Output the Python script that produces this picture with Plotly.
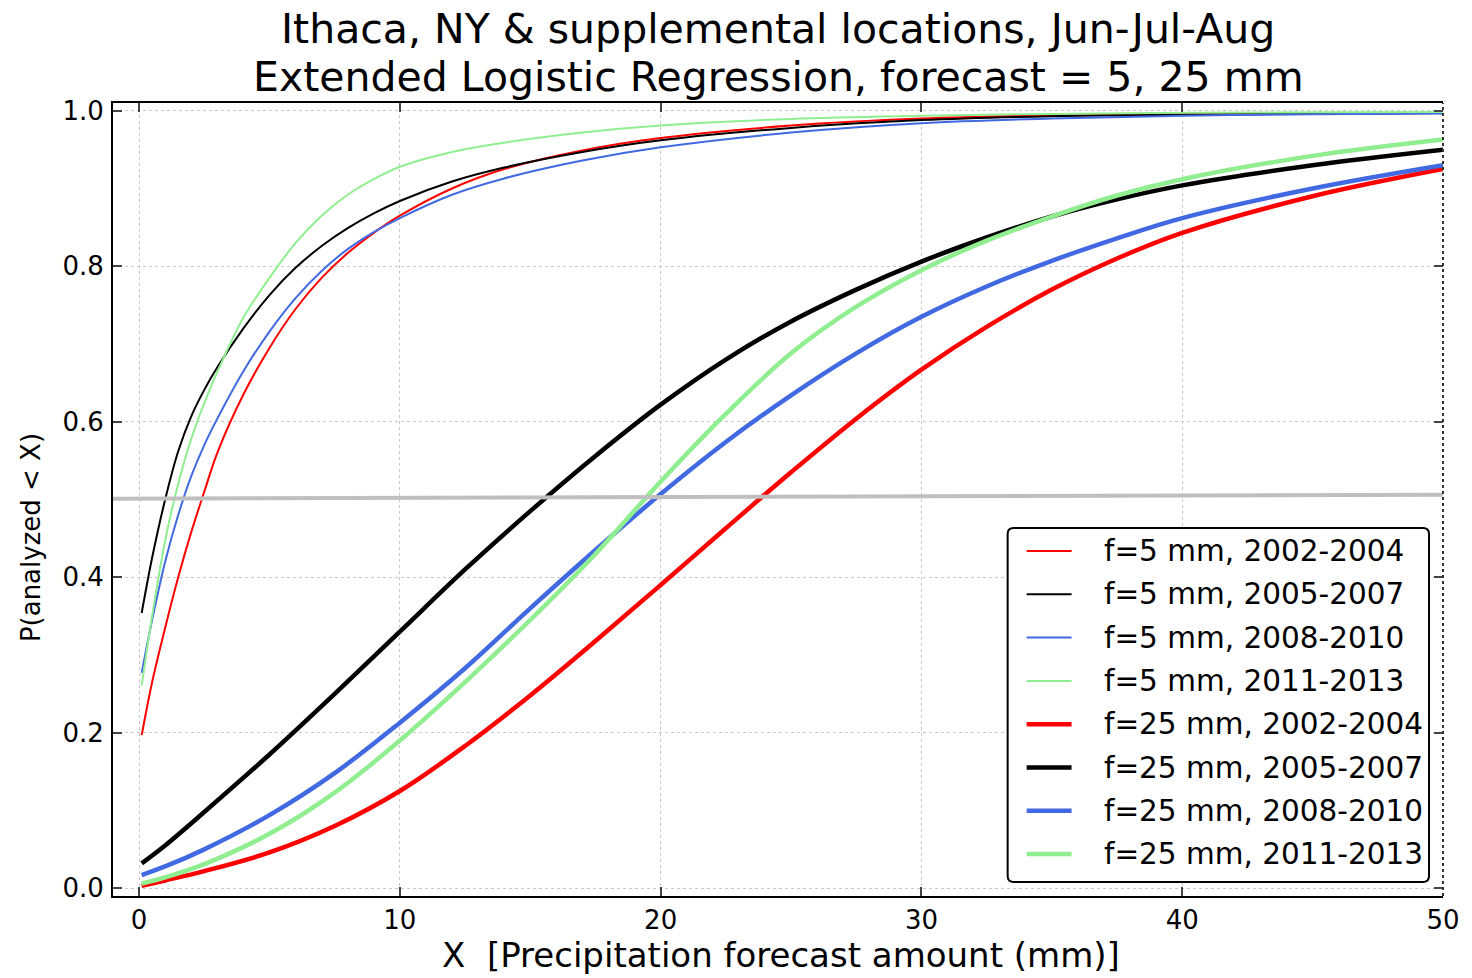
import plotly.graph_objects as go

# Threshold axis (mm) used for the f=5 mm curves
x_f5 = [0.1, 0.5, 1, 1.5, 2, 2.5, 3, 4, 5, 6, 7, 8, 9, 10, 12, 14, 17, 20, 25, 30, 35, 40, 45, 50]
p_f5_0204 = [0.197, 0.265, 0.335, 0.4, 0.458, 0.51, 0.56, 0.635, 0.695, 0.745, 0.785, 0.817, 0.843,
             0.865, 0.9, 0.925, 0.949, 0.965, 0.981, 0.990, 0.994, 0.9955, 0.9965, 0.997]
p_f5_0507 = [0.354, 0.425, 0.5, 0.562, 0.607, 0.641, 0.67, 0.72, 0.763, 0.798, 0.826, 0.849, 0.868,
             0.884, 0.909, 0.927, 0.947, 0.962, 0.978, 0.988, 0.993, 0.995, 0.996, 0.997]
p_f5_0810 = [0.277, 0.345, 0.42, 0.48, 0.53, 0.57, 0.604, 0.665, 0.716, 0.759, 0.794, 0.822, 0.844,
             0.862, 0.892, 0.913, 0.936, 0.953, 0.972, 0.984, 0.990, 0.9936, 0.9955, 0.9966]
p_f5_1113 = [0.261, 0.35, 0.447, 0.52, 0.578, 0.624, 0.664, 0.734, 0.785, 0.83, 0.865, 0.892, 0.912,
             0.928, 0.947, 0.959, 0.972, 0.981, 0.9895, 0.9935, 0.996, 0.9975, 0.998, 0.9985]

# Threshold axis (mm) used for the f=25 mm curves
x_f25 = [0.1, 1, 2.5, 5, 7.5, 10, 12.5, 15, 17.5, 20, 22.5, 25, 27.5, 30, 32.5, 35, 37.5, 40, 45, 50]
p_f25_0204 = [0.003, 0.01, 0.022, 0.046, 0.08, 0.125, 0.183, 0.248, 0.318, 0.39, 0.463, 0.535,
              0.604, 0.667, 0.722, 0.77, 0.81, 0.843, 0.89, 0.925]
p_f25_0507 = [0.032, 0.055, 0.098, 0.172, 0.25, 0.33, 0.41, 0.485, 0.556, 0.622, 0.68, 0.729,
              0.77, 0.806, 0.837, 0.864, 0.886, 0.904, 0.930, 0.950]
p_f25_0810 = [0.017, 0.028, 0.05, 0.094, 0.148, 0.213, 0.283, 0.36, 0.435, 0.507, 0.574, 0.634,
              0.688, 0.735, 0.774, 0.807, 0.836, 0.862, 0.900, 0.930]
p_f25_1113 = [0.006, 0.014, 0.031, 0.07, 0.123, 0.19, 0.265, 0.345, 0.43, 0.523, 0.61, 0.688,
              0.748, 0.795, 0.833, 0.864, 0.891, 0.912, 0.942, 0.963]

# Reference line near P = 0.5
x_half = [-1, 50]
p_half = [0.501, 0.506]

periods = ["2002-2004", "2005-2007", "2008-2010", "2011-2013"]
colors = ["#ff0000", "#000000", "#4169e1", "#90ee90"]

FONT = "DejaVu Sans"
W, H = 1472, 978
M_L, M_R, M_T, M_B = 113, 27, 103, 82
PW, PH = W - M_L - M_R, H - M_T - M_B


def px_x(px):
    """pixel column -> paper x"""
    return (px - M_L) / PW


def px_y(py):
    """pixel row -> paper y"""
    return (H - M_B - py) / PH


fig = go.Figure()

f5_series = [p_f5_0204, p_f5_0507, p_f5_0810, p_f5_1113]
f25_series = [p_f25_0204, p_f25_0507, p_f25_0810, p_f25_1113]

entries = []
for p, per, c in zip(f5_series, periods, colors):
    name = f"f=5 mm, {per}"
    fig.add_trace(go.Scatter(x=x_f5, y=p, mode="lines", name=name, showlegend=False,
                             line=dict(color=c, width=2, shape="spline", smoothing=1.0)))
    entries.append((name, c, 2))
for p, per, c in zip(f25_series, periods, colors):
    name = f"f=25 mm, {per}"
    fig.add_trace(go.Scatter(x=x_f25, y=p, mode="lines", name=name, showlegend=False,
                             line=dict(color=c, width=4.5, shape="spline", smoothing=1.0)))
    entries.append((name, c, 4.5))

fig.add_trace(go.Scatter(x=x_half, y=p_half, mode="lines", showlegend=False,
                         line=dict(color="#bfbfbf", width=4), hoverinfo="skip"))

axis_common = dict(
    showgrid=True, gridcolor="#c8c8c8", gridwidth=1, griddash="dot",
    zeroline=False, ticks="inside", ticklen=9, tickwidth=1.5, tickcolor="#444",
    tickfont=dict(family=FONT, size=26, color="black"),
)

fig.update_layout(
    width=W, height=H,
    margin=dict(l=M_L, r=M_R, t=M_T, b=M_B),
    paper_bgcolor="white", plot_bgcolor="white",
    font=dict(family=FONT, color="black"),
    showlegend=False,
    xaxis=dict(range=[-1, 50], tickvals=[0, 10, 20, 30, 40, 50],
               showline=True, linecolor="black", linewidth=2, mirror="ticks",
               **axis_common),
    yaxis=dict(range=[-0.01, 1.01], tickvals=[0, 0.2, 0.4, 0.6, 0.8, 1.0],
               tickformat=".1f", showline=True, linecolor="black", linewidth=2,
               mirror=False, ticklabelstandoff=2, **axis_common),
    yaxis2=dict(range=[-0.01, 1.01], overlaying="y", side="right",
                tickvals=[0, 0.2, 0.4, 0.6, 0.8, 1.0], showticklabels=False,
                showgrid=False, zeroline=False, showline=False,
                ticks="inside", ticklen=9, tickwidth=1.5, tickcolor="#444"),
)

# keep the right-hand axis active so its inside ticks render
fig.add_trace(go.Scatter(x=[None], y=[None], yaxis="y2", showlegend=False, hoverinfo="skip"))

shapes = []
# dotted right frame edge
shapes.append(dict(type="line", xref="paper", yref="paper", x0=1, x1=1, y0=0, y1=1,
                   line=dict(color="#333", width=2, dash="dot")))

# legend box with rounded corners
bx0, bx1, by0, by1, r = 1009, 1431, 528, 882, 6
rx, ry = r / PW, r / PH
X0, X1, Y0, Y1 = px_x(bx0), px_x(bx1), px_y(by1), px_y(by0)
path = (f"M {X0 + rx},{Y0} L {X1 - rx},{Y0} Q {X1},{Y0} {X1},{Y0 + ry} "
        f"L {X1},{Y1 - ry} Q {X1},{Y1} {X1 - rx},{Y1} L {X0 + rx},{Y1} "
        f"Q {X0},{Y1} {X0},{Y1 - ry} L {X0},{Y0 + ry} Q {X0},{Y0} {X0 + rx},{Y0} Z")
shapes.append(dict(type="path", xref="paper", yref="paper", path=path,
                   fillcolor="white", line=dict(color="black", width=2), layer="above"))

title_lines = ["Ithaca, NY & supplemental locations, Jun-Jul-Aug",
               "Extended Logistic Regression, forecast = 5, 25 mm"]
title_rows = [29, 77]

annotations = []
for txt, row in zip(title_lines, title_rows):
    annotations.append(dict(text=txt, x=0.5, y=px_y(row), xref="paper", yref="paper",
                            xanchor="center", yanchor="middle", showarrow=False,
                            borderpad=0, borderwidth=0,
                            font=dict(family=FONT, size=41, color="black")))

annotations += [
    dict(text="X  [Precipitation forecast amount (mm)]", x=px_x(782), y=px_y(977),
         xref="paper", yref="paper", xanchor="center", yanchor="bottom",
         showarrow=False, font=dict(family=FONT, size=34, color="black")),
    dict(text="P(analyzed < X)", x=px_x(31), y=px_y(538),
         xref="paper", yref="paper", xanchor="center", yanchor="middle", textangle=-90,
         showarrow=False, font=dict(family=FONT, size=26, color="black")),
]

# legend rows
row0, row_step = 551, 43.3
for i, (name, c, w) in enumerate(entries):
    yy = px_y(row0 + i * row_step)
    shapes.append(dict(type="line", xref="paper", yref="paper",
                       x0=px_x(1028), x1=px_x(1073), y0=yy, y1=yy,
                       line=dict(color=c, width=w), layer="above"))
    annotations.append(dict(text=name, x=px_x(1103), y=yy, xref="paper", yref="paper",
                            xanchor="left", yanchor="middle", showarrow=False,
                            font=dict(family=FONT, size=29.5, color="black")))

fig.update_layout(shapes=shapes, annotations=annotations)

fig.write_html("out.html")
